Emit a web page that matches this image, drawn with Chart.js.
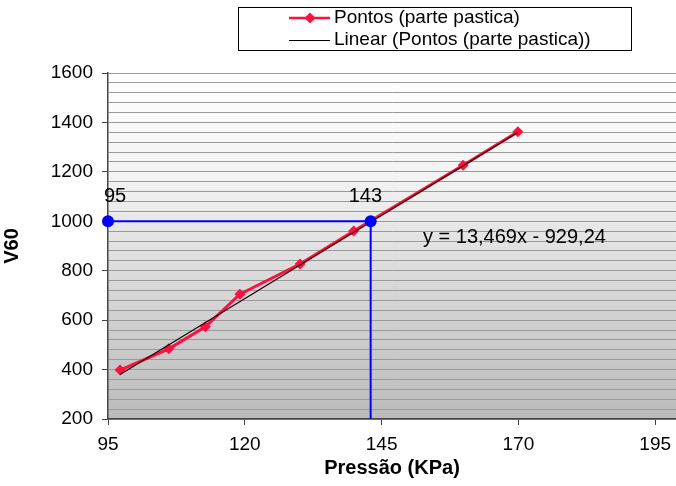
<!DOCTYPE html>
<html>
<head>
<meta charset="utf-8">
<script src="https://cdn.jsdelivr.net/npm/chart.js@4/dist/chart.umd.min.js"></script>
<style>
  html, body { margin: 0; padding: 0; background: #fff; }
  #wrap { width: 676px; height: 486px; position: relative; }
</style>
</head>
<body>
<div id="wrap"><canvas id="chart" width="676" height="486"></canvas></div>
<script>
// Data
const pontosX = [97.2, 106.1, 112.8, 119.1, 130.1, 139.9, 159.9, 169.9];
const pontosY = [398, 484, 573, 705, 827, 961, 1227, 1362];

// Linear trend: y = 13,469x - 929,24
const trendSlope = 13.469;
const trendIntercept = -929.24;
const trendX = [97.2, 169.9];

// Reference lines (blue)
const refX = [95, 143];
const refY = 1000;

const xTicks = [95, 120, 145, 170, 195];
const yLabelStep = 200;

const FONT = '"Liberation Sans", Arial, sans-serif';

// Plot background gradient + legend + annotations
const decorPlugin = {
    id: 'decor',
    beforeDraw(chart) {
        const { ctx, chartArea: a } = chart;
        const g = ctx.createLinearGradient(0, a.top, 0, a.bottom);
        g.addColorStop(0, '#ffffff');
        g.addColorStop(0.3, '#f3f3f3');
        g.addColorStop(0.6, '#d9d9d9');
        g.addColorStop(1, '#bbbbbb');
        ctx.save();
        ctx.fillStyle = g;
        ctx.fillRect(a.left, a.top, a.right - a.left, a.bottom - a.top);
        ctx.restore();
    },
    afterDraw(chart) {
        const { ctx } = chart;
        const xs = chart.scales.x, ys = chart.scales.y;
        ctx.save();

        // annotation labels
        ctx.fillStyle = '#000';
        ctx.font = '20px ' + FONT;
        ctx.textBaseline = 'middle';
        ctx.textAlign = 'left';
        ctx.fillText(String(refX[0]), xs.getPixelForValue(refX[0]) - 4, ys.getPixelForValue(refY) - 25);
        ctx.fillText(String(refX[1]), xs.getPixelForValue(refX[1]) - 22, ys.getPixelForValue(refY) - 25);
        ctx.fillText('y = 13,469x - 929,24', 423, 237);

        // legend box
        ctx.fillStyle = '#fff';
        ctx.fillRect(238, 7, 394, 44);
        ctx.strokeStyle = '#000';
        ctx.lineWidth = 1;
        ctx.strokeRect(238.5, 7.5, 393, 43);

        ctx.strokeStyle = '#ff1040';
        ctx.lineWidth = 2.5;
        ctx.beginPath(); ctx.moveTo(289, 18); ctx.lineTo(330, 18); ctx.stroke();
        ctx.fillStyle = '#ff1040';
        ctx.beginPath();
        ctx.moveTo(310, 12.5); ctx.lineTo(315.5, 18); ctx.lineTo(310, 23.5); ctx.lineTo(304.5, 18);
        ctx.closePath(); ctx.fill();

        ctx.strokeStyle = '#000';
        ctx.lineWidth = 1;
        ctx.beginPath(); ctx.moveTo(289, 40.5); ctx.lineTo(330, 40.5); ctx.stroke();

        ctx.fillStyle = '#000';
        ctx.font = '19px ' + FONT;
        ctx.fillText('Pontos (parte pastica)', 334, 18);
        ctx.fillText('Linear (Pontos (parte pastica))', 334, 40);
        ctx.restore();
    }
};

const pontos = pontosX.map((x, i) => ({ x: x, y: pontosY[i] }));
const trend = trendX.map(x => ({ x: x, y: trendSlope * x + trendIntercept }));
const refLine = [
    { x: refX[0], y: refY },
    { x: refX[1], y: refY },
    { x: refX[1], y: 200 }
];

new Chart(document.getElementById('chart'), {
    type: 'scatter',
    data: {
        datasets: [
            {
                label: 'ref',
                data: refLine,
                showLine: true,
                borderColor: '#0000ff',
                backgroundColor: '#0000ff',
                borderWidth: 2,
                pointRadius: [6, 6, 0],
                pointBorderWidth: 0,
                clip: 8,
                order: 0
            },
            {
                label: 'Linear (Pontos (parte pastica))',
                data: trend,
                showLine: true,
                borderColor: '#1a0000',
                borderWidth: 1.2,
                pointRadius: 0,
                order: 1
            },
            {
                label: 'Pontos (parte pastica)',
                data: pontos,
                showLine: true,
                borderColor: '#ff1040',
                backgroundColor: '#ff1040',
                borderWidth: 3,
                pointStyle: 'rectRot',
                pointRadius: 5.5,
                pointBorderWidth: 0,
                order: 2
            }
        ]
    },
    options: {
        responsive: false,
        animation: false,
        layout: { autoPadding: false, padding: { top: 73, right: 0, bottom: 0, left: 0 } },
        plugins: {
            legend: { display: false },
            tooltip: { enabled: false }
        },
        scales: {
            x: {
                type: 'linear',
                min: 95,
                max: 198.8,
                afterBuildTicks: scale => { scale.ticks = xTicks.map(v => ({ value: v })); },
                afterFit: scale => {
                    scale.height = 67;
                    scale.paddingRight = 0;
                    scale.paddingLeft = 0;
                },
                grid: { drawOnChartArea: false, tickLength: 6, tickColor: '#444' },
                border: { color: '#444', width: 1.5 },
                ticks: { color: '#000', font: { family: FONT, size: 19 }, padding: 8, maxRotation: 0 },
                title: {
                    display: true,
                    text: 'Pressão (KPa)',
                    color: '#000',
                    font: { family: FONT, size: 20, weight: 'bold' },
                    padding: { top: 0, bottom: 6 }
                }
            },
            y: {
                min: 200,
                max: 1600,
                afterFit: scale => { scale.width = 108; },
                grid: {
                    color: '#9a9a9a',
                    tickLength: 6,
                    tickColor: ctx => (ctx.tick && ctx.tick.value % yLabelStep === 0) ? '#444' : 'rgba(0,0,0,0)'
                },
                border: { color: '#444', width: 1.5 },
                ticks: {
                    stepSize: 40,
                    autoSkip: false,
                    color: '#000',
                    padding: 9,
                    font: { family: FONT, size: 19 },
                    callback: v => (v % yLabelStep === 0) ? v : ''
                },
                title: {
                    display: true,
                    text: 'V60',
                    color: '#000',
                    font: { family: FONT, size: 20, weight: 'bold' },
                    padding: { top: 0, bottom: 0 }
                }
            }
        }
    },
    plugins: [decorPlugin]
});
</script>
</body>
</html>
